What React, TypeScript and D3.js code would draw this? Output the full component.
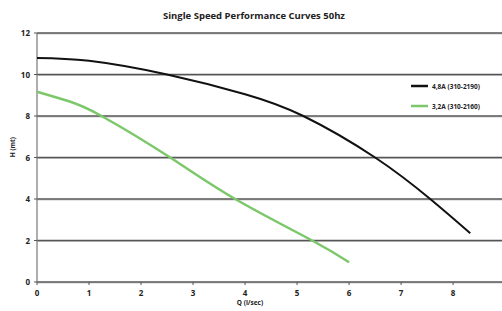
import React from "react";
import * as d3 from "d3";

// pump curves (Q in l/sec, H in metres)
const blackQ = [0, 1, 2.5, 4, 5.12, 6.5, 7.56, 8.33];
const blackH = [10.8, 10.66, 10.0, 9.05, 8.0, 6.0, 4.0, 2.35];
const greenQ = [0, 0.6, 1.24, 2.56, 3.81, 5.29, 6];
const greenH = [9.17, 8.72, 8.0, 6.0, 4.0, 2.0, 0.95];

const seriesNames = ["4,8A (310-2190)", "3,2A (310-2160)"];
const seriesColors = ["#111111", "#7cc76a"];
const xTicks = [0, 1, 2, 3, 4, 5, 6, 7, 8];
const yTicks = [0, 2, 4, 6, 8, 10, 12];

const W = 502;
const H = 311;
const font = "'Open Sans', 'DejaVu Sans Condensed', sans-serif";

export default function App() {
  const x = d3.scaleLinear().domain([0, 8.94]).range([37, 502]);
  const y = d3.scaleLinear().domain([0, 12]).range([282, 33]);

  const line = d3
    .line<[number, number]>()
    .x((d) => x(d[0]))
    .y((d) => y(d[1]))
    .curve(d3.curveNatural);

  const black = blackQ.map((q, i) => [q, blackH[i]] as [number, number]);
  const green = greenQ.map((q, i) => [q, greenH[i]] as [number, number]);

  return (
    <svg
      width={W}
      height={H}
      style={{ position: "absolute", left: 0, top: 0, background: "#fff" }}
    >
      <text
        x={254}
        y={19}
        textAnchor="middle"
        fontFamily={font}
        fontWeight="bold"
        fontSize={9.5}
        textLength={182}
        lengthAdjust="spacingAndGlyphs"
        fill="#222"
      >
        Single Speed Performance Curves 50hz
      </text>

      {/* horizontal grid */}
      {yTicks.map((t) => (
        <g key={"g" + t}>
          <line x1={x(0)} x2={W} y1={y(t) + 1} y2={y(t) + 1} stroke="#ccc" strokeWidth={1} />
          <line x1={x(0)} x2={W} y1={y(t)} y2={y(t)} stroke="#555" strokeWidth={1.5} />
        </g>
      ))}
      {/* y axis */}
      <line x1={x(0)} x2={x(0)} y1={y(12)} y2={y(0)} stroke="#777" strokeWidth={1.2} />

      {yTicks.map((t) => (
        <g key={"y" + t}>
          <line x1={x(0) - 3} x2={x(0)} y1={y(t)} y2={y(t)} stroke="#555" />
          <text
            x={x(0) - 7}
            y={y(t) + 3}
            textAnchor="end"
            fontFamily={font}
            fontWeight="bold"
            fontSize={8}
            fill="#222"
          >
            {t}
          </text>
        </g>
      ))}
      {xTicks.map((t) => (
        <g key={"x" + t}>
          <line x1={x(t)} x2={x(t)} y1={y(0)} y2={y(0) + 3} stroke="#555" />
          <text
            x={x(t)}
            y={y(0) + 14}
            textAnchor="middle"
            fontFamily={font}
            fontWeight="bold"
            fontSize={8}
            fill="#222"
          >
            {t}
          </text>
        </g>
      ))}

      <text
        x={250}
        y={305}
        textAnchor="middle"
        fontFamily={font}
        fontWeight="bold"
        fontSize={6.5}
        fill="#222"
      >
        Q (l/sec)
      </text>
      <text
        transform={`translate(15,${(y(6) + y(7)) / 2}) rotate(-90)`}
        textAnchor="middle"
        fontFamily={font}
        fontWeight="bold"
        fontSize={6.5}
        fill="#222"
      >
        H (mt)
      </text>

      <path d={line(black) || ""} fill="none" stroke={seriesColors[0]} strokeWidth={2} />
      <path d={line(green) || ""} fill="none" stroke={seriesColors[1]} strokeWidth={2.5} />

      {seriesNames.map((n, i) => (
        <g key={n} transform={`translate(411,${86 + i * 20})`}>
          <line x1={0} x2={17} y1={0} y2={0} stroke={seriesColors[i]} strokeWidth={2.5} />
          <text
            x={21}
            y={2.5}
            fontFamily={font}
            fontWeight="bold"
            fontSize={6.5}
            fill="#222"
          >
            {n}
          </text>
        </g>
      ))}
    </svg>
  );
}
